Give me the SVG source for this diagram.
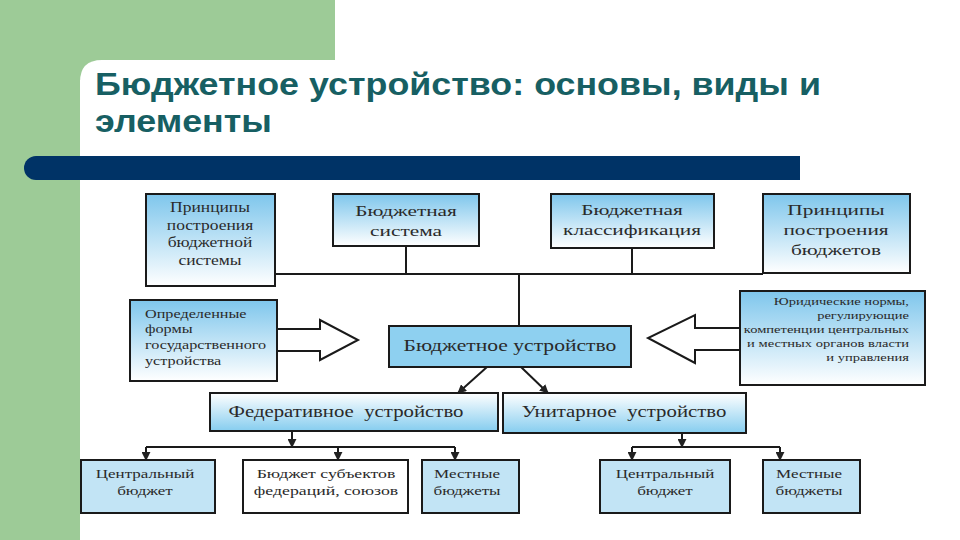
<svg xmlns="http://www.w3.org/2000/svg" width="960" height="540" viewBox="0 0 960 540">
<defs>
<linearGradient id="gDown" x1="0" y1="0" x2="0" y2="1"><stop offset="0" stop-color="#7ec6ec"/><stop offset="1" stop-color="#ffffff"/></linearGradient>
<linearGradient id="gUp" x1="0" y1="0" x2="0" y2="1"><stop offset="0" stop-color="#ffffff"/><stop offset="1" stop-color="#86cdef"/></linearGradient>
<marker id="ah" viewBox="0 0 10 10" refX="9" refY="5" markerWidth="4.5" markerHeight="4.5" orient="auto"><path d="M0,0 L10,5 L0,10 z" fill="#222"/></marker>
<style>
.bx{stroke:#1a1a1a;stroke-width:2}
.t{font-family:"Liberation Serif","Times New Roman",serif;fill:#2a2a2a}
.c{text-anchor:middle}
.ln{stroke:#1a1a1a;stroke-width:2;fill:none}
.ar{stroke:#1a1a1a;stroke-width:2;fill:none;marker-end:url(#ah)}
.hol{fill:#ffffff;stroke:#1a1a1a;stroke-width:2}
.ttl{font-family:"Liberation Sans",Arial,sans-serif;font-weight:bold;font-size:32px;fill:#175f63}
</style>
</defs>
<rect x="0" y="0" width="960" height="540" fill="#ffffff"/>
<rect x="0" y="0" width="335" height="80" fill="#9dcb97"/>
<rect x="0" y="0" width="80" height="540" fill="#9dcb97"/>
<path d="M80,540 L80,82 Q80,60 102,60 L960,60 L960,540 Z" fill="#ffffff"/>
<text class="ttl" transform="matrix(1.12,0,0,1,95,0)" x="0" y="95">Бюджетное устройство: основы, виды и</text>
<text class="ttl" transform="matrix(1.12,0,0,1,95,0)" x="0" y="132">элементы</text>
<path d="M36,156 L800,156 L800,180 L36,180 A12,12 0 0 1 36,156 Z" fill="#003366"/>

<g id="connectors">
<path class="ln" d="M275,274 L763,274 M406,246 L406,274 M632,248 L632,274 M519,274 L519,326"/>
<path class="ar" d="M487,367 L458,393"/>
<path class="ar" d="M521,367 L548,393"/>
<path class="ln" d="M146,447 L455,447"/>
<path class="ar" d="M292,431 L292,447"/>
<path class="ar" d="M146,447 L146,460"/>
<path class="ar" d="M338,447 L338,460"/>
<path class="ar" d="M455,447 L455,460"/>
<path class="ln" d="M632,447 L780,447"/>
<path class="ar" d="M682,433 L682,447"/>
<path class="ar" d="M632,447 L632,460"/>
<path class="ar" d="M780,447 L780,460"/>
<path class="hol" d="M277,329 L320,329 L320,320 L358,340 L320,360 L320,351 L277,351 Z"/>
<path class="hol" d="M740,328 L695,328 L695,315 L648,338 L695,363 L695,350 L740,350 Z"/>
</g>

<g id="n-principles-system">
<rect class="bx" x="146" y="194" width="129" height="92" fill="url(#gDown)"/>
<text class="t c" transform="matrix(1.25,0,0,1,210,0)" font-size="14"><tspan x="0" y="212">Принципы</tspan><tspan x="0" y="230">построения</tspan><tspan x="0" y="247">бюджетной</tspan><tspan x="0" y="265">системы</tspan></text>
</g>
<g id="n-budget-system">
<rect class="bx" x="333" y="194" width="146" height="52" fill="url(#gDown)"/>
<text class="t c" transform="matrix(1.42,0,0,1,406,0)" font-size="15"><tspan x="0" y="216">Бюджетная</tspan><tspan x="0" y="236">система</tspan></text>
</g>
<g id="n-classification">
<rect class="bx" x="551" y="194" width="163" height="54" fill="url(#gDown)"/>
<text class="t c" transform="matrix(1.42,0,0,1,632,0)" font-size="15"><tspan x="0" y="215">Бюджетная</tspan><tspan x="0" y="235">классификация</tspan></text>
</g>
<g id="n-principles-budgets">
<rect class="bx" x="763" y="194" width="147" height="79" fill="url(#gDown)"/>
<text class="t c" transform="matrix(1.42,0,0,1,836,0)" font-size="15"><tspan x="0" y="215">Принципы</tspan><tspan x="0" y="235">построения</tspan><tspan x="0" y="255">бюджетов</tspan></text>
</g>
<g id="n-forms">
<rect class="bx" x="130" y="300" width="147" height="81" fill="url(#gDown)"/>
<text class="t" transform="matrix(1.35,0,0,1,145,0)" font-size="12"><tspan x="0" y="318">Определенные</tspan><tspan x="0" y="333">формы</tspan><tspan x="0" y="349">государственного</tspan><tspan x="0" y="365">устройства</tspan></text>
</g>
<g id="n-legal">
<rect class="bx" x="740" y="291" width="185" height="94" fill="url(#gDown)"/>
<text class="t" transform="matrix(1.32,0,0,1,909,0)" font-size="11" text-anchor="end"><tspan x="0" y="305">Юридические нормы,</tspan><tspan x="0" y="319">регулирующие</tspan><tspan x="0" y="333">компетенции центральных</tspan><tspan x="0" y="347">и местных органов власти</tspan><tspan x="0" y="361">и управления</tspan></text>
</g>
<g id="n-budget-structure">
<rect class="bx" x="389" y="326" width="242" height="41" fill="#8ed0f0"/>
<text class="t c" transform="matrix(1.35,0,0,1,510,0)" font-size="16" y="351">Бюджетное устройство</text>
</g>
<g id="n-federal">
<rect class="bx" x="210" y="393" width="288" height="38" fill="url(#gUp)"/>
<text class="t c" transform="matrix(1.3,0,0,1,346,0)" font-size="16" y="417" xml:space="preserve">Федеративное  устройство</text>
</g>
<g id="n-unitary">
<rect class="bx" x="503" y="393" width="243" height="40" fill="url(#gUp)"/>
<text class="t c" transform="matrix(1.3,0,0,1,624,0)" font-size="16" y="417" xml:space="preserve">Унитарное  устройство</text>
</g>
<g id="n-fed-central">
<rect class="bx" x="81" y="460" width="134" height="53" fill="#c2e4f5"/>
<text class="t c" transform="matrix(1.36,0,0,1,145,0)" font-size="12.5"><tspan x="0" y="478">Центральный</tspan><tspan x="0" y="495">бюджет</tspan></text>
</g>
<g id="n-fed-subjects">
<rect class="bx" x="243" y="460" width="165" height="53" fill="#ffffff"/>
<text class="t c" transform="matrix(1.42,0,0,1,326,0)" font-size="12.5"><tspan x="0" y="478">Бюджет субъектов</tspan><tspan x="0" y="495">федераций, союзов</tspan></text>
</g>
<g id="n-fed-local">
<rect class="bx" x="422" y="460" width="97" height="53" fill="#c2e4f5"/>
<text class="t c" transform="matrix(1.36,0,0,1,467,0)" font-size="12.5"><tspan x="0" y="478">Местные</tspan><tspan x="0" y="495">бюджеты</tspan></text>
</g>
<g id="n-uni-central">
<rect class="bx" x="600" y="460" width="130" height="53" fill="#c2e4f5"/>
<text class="t c" transform="matrix(1.36,0,0,1,665,0)" font-size="12.5"><tspan x="0" y="478">Центральный</tspan><tspan x="0" y="495">бюджет</tspan></text>
</g>
<g id="n-uni-local">
<rect class="bx" x="763" y="460" width="97" height="53" fill="#c2e4f5"/>
<text class="t c" transform="matrix(1.36,0,0,1,809,0)" font-size="12.5"><tspan x="0" y="478">Местные</tspan><tspan x="0" y="495">бюджеты</tspan></text>
</g>
</svg>
